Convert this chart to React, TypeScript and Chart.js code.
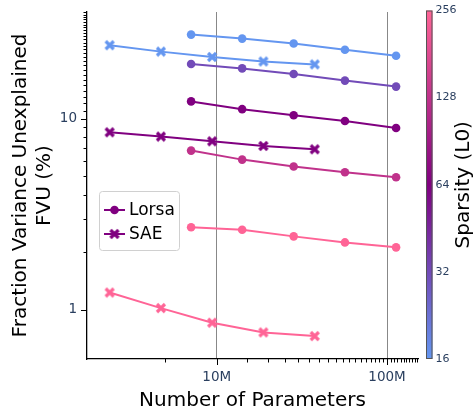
import React, { useEffect, useRef } from 'react';
import { Chart, registerables } from 'chart.js';

Chart.register(...registerables);

// ---- data ----
const lorsaParams = [7.07e6, 14.1e6, 28.3e6, 56.6e6, 113e6];
const saeParams = [2.35e6, 4.7e6, 9.4e6, 18.8e6, 37.6e6];

const lorsaL0 = [16, 32, 64, 128, 256];
const lorsaFVU16 = [27.5, 26.2, 24.7, 22.9, 21.3];
const lorsaFVU32 = [19.3, 18.3, 17.1, 15.8, 14.7];
const lorsaFVU64 = [12.3, 11.2, 10.4, 9.71, 8.93];
const lorsaFVU128 = [6.8, 6.1, 5.61, 5.24, 4.93];
const lorsaFVU256 = [2.7, 2.62, 2.42, 2.25, 2.12];

const saeL0 = [16, 64, 256];
const saeFVU16 = [24.2, 22.4, 21.0, 19.9, 19.2];
const saeFVU64 = [8.48, 8.05, 7.61, 7.19, 6.91];
const saeFVU256 = [1.23, 1.02, 0.855, 0.761, 0.728];

// ticks
const xMajorTicks = [1e7, 1e8];
const xMajorLabels = ['10M', '100M'];
const yMajorTicks = [1, 10];
const yMajorLabels = ['1', '10'];
const cbarTicks = [16, 32, 64, 128, 256];
const cbarLabels = ['16', '32', '64', '128', '256'];

const X_MIN = 1.73e6;
const X_MAX = 1.52e8;
const Y_MIN = 0.5525;
const Y_MAX = 36.1;
const X_MINOR_STEP = 5e6;
const Y_MINOR_STEP = 1;

const FONT = '"DejaVu Sans", "Liberation Sans", sans-serif';
const TICK_COLOR = '#2a3f5f';

// colormap: blue (16) -> purple (64) -> pink (256), linear in log2
const CMAP: [number, number[]][] = [
  [16, [100, 150, 240]],
  [64, [128, 0, 128]],
  [256, [255, 100, 150]],
];
function cmap(l0: number): string {
  const t = Math.log2(l0);
  for (let i = 0; i < CMAP.length - 1; i++) {
    const a = Math.log2(CMAP[i][0]);
    const b = Math.log2(CMAP[i + 1][0]);
    if (t <= b || i === CMAP.length - 2) {
      const f = Math.max(0, Math.min(1, (t - a) / (b - a)));
      const c = CMAP[i][1].map((v, k) => Math.round(v + (CMAP[i + 1][1][k] - v) * f));
      return `rgb(${c[0]},${c[1]},${c[2]})`;
    }
  }
  return 'black';
}

function makeX(color: string, size = 12, r = 4, lw = 3.2): HTMLCanvasElement {
  const c = document.createElement('canvas');
  c.width = size;
  c.height = size;
  const g = c.getContext('2d')!;
  g.strokeStyle = color;
  g.lineWidth = lw;
  g.lineCap = 'butt';
  const m = size / 2;
  g.beginPath();
  g.moveTo(m - r, m - r);
  g.lineTo(m + r, m + r);
  g.moveTo(m + r, m - r);
  g.lineTo(m - r, m + r);
  g.stroke();
  return c;
}

const lorsaSeries = [lorsaFVU16, lorsaFVU32, lorsaFVU64, lorsaFVU128, lorsaFVU256];
const saeSeries = [saeFVU16, saeFVU64, saeFVU256];

function buildDatasets() {
  const ds: any[] = [];
  lorsaSeries.forEach((vals, i) => {
    const col = cmap(lorsaL0[i]);
    ds.push({
      label: `Lorsa L0=${lorsaL0[i]}`,
      data: lorsaParams.map((p, j) => ({ x: p, y: vals[j] })),
      borderColor: col,
      backgroundColor: col,
      borderWidth: 2,
      pointRadius: 4.3,
      pointBorderWidth: 0,
      pointStyle: 'circle',
    });
  });
  saeSeries.forEach((vals, i) => {
    const col = cmap(saeL0[i]);
    ds.push({
      label: `SAE L0=${saeL0[i]}`,
      data: saeParams.map((p, j) => ({ x: p, y: vals[j] })),
      borderColor: col,
      backgroundColor: col,
      borderWidth: 2,
      pointRadius: 5,
      pointStyle: makeX(col),
    });
  });
  return ds;
}

const overlayPlugin = {
  id: 'overlay',
  afterDraw(chart: any) {
    const ctx: CanvasRenderingContext2D = chart.ctx;
    const area = chart.chartArea;
    const xs = chart.scales.x;
    const ys = chart.scales.y;
    ctx.save();
    // tick marks
    ctx.strokeStyle = '#000';
    ctx.lineWidth = 1;
    xs.ticks.forEach((t: any) => {
      const px = Math.round(xs.getPixelForValue(t.value)) + 0.5;
      const len = xMajorTicks.includes(t.value) ? 6 : 3.5;
      ctx.beginPath();
      ctx.moveTo(px, area.bottom);
      ctx.lineTo(px, area.bottom + len);
      ctx.stroke();
    });
    ys.ticks.forEach((t: any) => {
      const py = Math.round(ys.getPixelForValue(t.value)) + 0.5;
      const len = yMajorTicks.includes(t.value) ? 6 : 3.5;
      ctx.beginPath();
      ctx.moveTo(area.left, py);
      ctx.lineTo(area.left - len, py);
      ctx.stroke();
    });

    // axis titles
    ctx.fillStyle = '#000';
    ctx.font = `20px ${FONT}`;
    ctx.textAlign = 'center';
    ctx.textBaseline = 'middle';
    ctx.fillText('Number of Parameters', (area.left + area.right) / 2, 401);
    const cy = (area.top + area.bottom) / 2;
    ctx.save();
    ctx.translate(21, cy);
    ctx.rotate(-Math.PI / 2);
    ctx.fillText('Fraction Variance Unexplained', 0, 0);
    ctx.restore();
    ctx.save();
    ctx.translate(45, cy);
    ctx.rotate(-Math.PI / 2);
    ctx.fillText('FVU (%)', 0, 0);
    ctx.restore();

    // colorbar
    const cbX = area.right + 8;
    const cbW = 6.5;
    const cbTop = area.top - 1.5;
    const cbBot = area.bottom;
    const lmin = Math.log2(cbarTicks[0]);
    const lmax = Math.log2(cbarTicks[cbarTicks.length - 1]);
    const grad = ctx.createLinearGradient(0, cbBot, 0, cbTop);
    for (let k = 0; k <= 40; k++) {
      const f = k / 40;
      grad.addColorStop(f, cmap(Math.pow(2, lmin + (lmax - lmin) * f)));
    }
    ctx.fillStyle = grad;
    ctx.fillRect(cbX, cbTop, cbW, cbBot - cbTop);
    ctx.strokeStyle = '#555';
    ctx.lineWidth = 1;
    ctx.strokeRect(cbX + 0.5, cbTop + 0.5, cbW - 1, cbBot - cbTop - 1);
    ctx.font = `11px ${FONT}`;
    ctx.fillStyle = TICK_COLOR;
    ctx.textAlign = 'left';
    ctx.textBaseline = 'middle';
    cbarTicks.forEach((v, i) => {
      const f = (Math.log2(v) - lmin) / (lmax - lmin);
      const py = cbBot - f * (cbBot - cbTop);
      ctx.fillText(cbarLabels[i], cbX + cbW + 3, py);
    });
    ctx.fillStyle = '#000';
    ctx.font = `20px ${FONT}`;
    ctx.textAlign = 'center';
    ctx.save();
    ctx.translate(464, (cbTop + cbBot) / 2);
    ctx.rotate(-Math.PI / 2);
    ctx.fillText('Sparsity (L0)', 0, 0);
    ctx.restore();

    // legend
    const lx = 99.5, ly = 191.5, lw = 80, lh = 59;
    ctx.fillStyle = 'rgba(255,255,255,0.85)';
    ctx.strokeStyle = '#d0d0d0';
    ctx.lineWidth = 1;
    ctx.beginPath();
    (ctx as any).roundRect(lx, ly, lw, lh, 3);
    ctx.fill();
    ctx.stroke();
    const legCol = cmap(64);
    const entries = [
      { label: 'Lorsa', y: 210, marker: 'circle' },
      { label: 'SAE', y: 234, marker: 'x' },
    ];
    entries.forEach((e) => {
      ctx.strokeStyle = legCol;
      ctx.lineWidth = 2;
      ctx.beginPath();
      ctx.moveTo(104, e.y);
      ctx.lineTo(125, e.y);
      ctx.stroke();
      if (e.marker === 'circle') {
        ctx.fillStyle = legCol;
        ctx.beginPath();
        ctx.arc(114.5, e.y, 4.3, 0, Math.PI * 2);
        ctx.fill();
      } else {
        ctx.drawImage(makeX(legCol), 114.5 - 6, e.y - 6);
      }
      ctx.fillStyle = '#000';
      ctx.font = `17px ${FONT}`;
      ctx.textAlign = 'left';
      ctx.textBaseline = 'middle';
      ctx.fillText(e.label, 129, e.y + 0.5);
    });
    ctx.restore();
  },
};

export default function App() {
  const ref = useRef<HTMLCanvasElement>(null);
  useEffect(() => {
    document.body.style.margin = '0';
    const chart = new Chart(ref.current!, {
      type: 'line',
      data: { datasets: buildDatasets() },
      options: {
        responsive: false,
        animation: false,
        devicePixelRatio: 1,
        layout: { padding: { top: 12, right: 56, left: 0, bottom: 0 } },
        plugins: { legend: { display: false }, tooltip: { enabled: false } },
        scales: {
          x: {
            type: 'logarithmic',
            min: X_MIN,
            max: X_MAX,
            afterBuildTicks: (s: any) => {
              const t: any[] = [];
              for (let v = X_MINOR_STEP; v <= X_MAX; v += X_MINOR_STEP) {
                if (v >= X_MIN) t.push({ value: v });
              }
              s.ticks = t;
            },
            afterFit: (s: any) => {
              s.height = 55;
              s.paddingLeft = 0;
              s.paddingRight = 0;
            },
            ticks: {
              autoSkip: false,
              maxRotation: 0,
              padding: 10,
              color: TICK_COLOR,
              font: { family: FONT, size: 13.5 },
              callback: (v: any) => {
                const i = xMajorTicks.indexOf(Number(v));
                return i >= 0 ? xMajorLabels[i] : '';
              },
            },
            grid: {
              drawTicks: false,
              lineWidth: 1,
              color: (c: any) =>
                c.tick && xMajorTicks.includes(c.tick.value) ? '#888888' : 'rgba(0,0,0,0)',
            },
            border: { display: true, color: '#000', width: 1.3 },
          },
          y: {
            type: 'logarithmic',
            min: Y_MIN,
            max: Y_MAX,
            afterBuildTicks: (s: any) => {
              const t: any[] = [];
              for (let v = Y_MINOR_STEP; v <= Y_MAX; v += Y_MINOR_STEP) {
                if (v >= Y_MIN) t.push({ value: v });
              }
              s.ticks = t;
            },
            afterFit: (s: any) => {
              s.width = 87;
              s.paddingTop = 0;
              s.paddingBottom = 0;
            },
            ticks: {
              autoSkip: false,
              padding: 10,
              color: TICK_COLOR,
              font: { family: FONT, size: 13.5 },
              callback: (v: any) => {
                const i = yMajorTicks.indexOf(Number(v));
                return i >= 0 ? yMajorLabels[i] : '';
              },
            },
            grid: { display: false, drawTicks: false },
            border: { display: true, color: '#000', width: 1.3 },
          },
        },
      },
      plugins: [overlayPlugin],
    } as any);
    return () => chart.destroy();
  }, []);
  return (
    <div style={{ width: 474, height: 414 }}>
      <canvas ref={ref} width={474} height={414} style={{ display: 'block' }} />
    </div>
  );
}
